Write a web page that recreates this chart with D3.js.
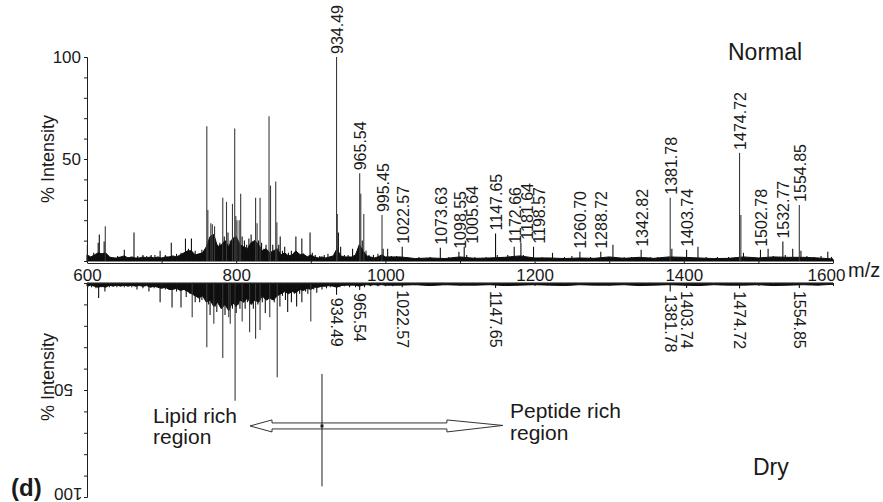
<!DOCTYPE html>
<html>
<head>
<meta charset="utf-8">
<script src="https://cdn.jsdelivr.net/npm/d3@7"></script>
<style>
  body { margin: 0; background: #fff; }
  text { font-family: "Liberation Sans", Arial, sans-serif; fill: #1a1a1a; }
</style>
</head>
<body>
<div id="chart"></div>
<script>
// Normal (top) spectrum, m/z and % intensity of the peaks
let normalMz = [600.5, 609, 612, 615, 616.5, 620, 623, 624.5, 628, 635, 641, 650, 655, 663, 668, 675, 680, 686, 691, 698,
    705, 713, 720, 726, 732, 736, 740, 745, 754, 760.6, 762, 766, 768, 771, 775, 778, 782, 784, 787, 789,
    792, 795, 798, 799.5, 801, 804, 806, 808, 811, 814, 817, 820, 823, 826, 828, 830, 832, 834, 837, 840,
    844, 846, 849, 853, 854.5, 857, 859, 862, 865, 870, 874, 880, 884, 888, 893, 899, 902, 906, 912, 918,
    923, 928, 934.49, 935.5, 937, 940, 945, 950, 956, 961, 965.54, 967, 969, 971, 974, 978, 984, 990, 995.45, 997,
    1003, 1008, 1015, 1022.57, 1030, 1045, 1060, 1073.63, 1085, 1098.55, 1105.64, 1109, 1120, 1135, 1147.65, 1150, 1164, 1172.66, 1181.64, 1185,
    1198.57, 1210, 1224, 1240, 1250, 1260.7, 1275, 1288.72, 1305, 1320, 1330, 1342.82, 1355, 1365, 1381.78, 1384, 1395, 1403.74, 1419, 1430,
    1445, 1460, 1474.72, 1476.5, 1480, 1490, 1502.78, 1513, 1520, 1532.77, 1536, 1546, 1554.85, 1557, 1565, 1575, 1584, 1593, 1598];
let normalInt = [8, 4, 3, 9, 13, 3, 9.5, 17, 3, 2, 2.5, 5.5, 2, 14, 2.5, 3, 2.5, 3, 3, 5,
    3, 9, 3.5, 4, 11, 6, 11, 5, 5.5, 66, 25, 18.5, 18, 17, 8, 9, 31, 12, 29, 14,
    10, 28, 65, 22, 20, 20, 33, 12, 10, 8, 11, 13, 9, 31, 18.5, 10, 31, 9, 6, 8,
    71, 37, 8, 39, 19, 8, 12, 5, 7, 4, 5, 12, 4, 11, 3, 14, 4, 3, 2.5, 3,
    3.5, 2.5, 100, 23, 14, 7, 3, 3, 6, 4, 43, 33, 10, 23, 5, 3, 3, 3.5, 22.5, 6,
    6, 2.5, 2.5, 7, 2, 2, 2, 6.5, 2, 4.5, 7, 3, 2, 2, 13.5, 3, 3, 7, 9, 3,
    7, 2, 4, 2, 2.5, 4.5, 2, 4.5, 8, 2, 2, 5.5, 2, 2, 31, 6, 2, 5.5, 7, 2,
    2, 2, 53, 22.5, 4, 2, 5.5, 6, 2.5, 9.5, 3, 6, 27.5, 5, 2.5, 2, 2.5, 4.5, 2];

// dense low-level signal (read every 5 Da up to 1000, then every 20 Da)
let noiseMz = [600, 605, 610, 615, 620, 625, 630, 635, 640, 645, 650, 655, 660, 665, 670, 675, 680, 685, 690, 695,
    700, 705, 710, 715, 720, 725, 730, 735, 740, 745, 750, 755, 760, 765, 770, 775, 780, 785, 790, 795,
    800, 805, 810, 815, 820, 825, 830, 835, 840, 845, 850, 855, 860, 865, 870, 875, 880, 885, 890, 895,
    900, 905, 910, 915, 920, 925, 930, 935, 940, 945, 950, 955, 960, 965, 970, 975, 980, 985, 990, 995,
    1000, 1020, 1040, 1060, 1080, 1100, 1120, 1140, 1160, 1180, 1200, 1220, 1240, 1260, 1280, 1300, 1320, 1340, 1360, 1380,
    1400, 1420, 1440, 1460, 1480, 1500, 1520, 1540, 1560, 1580, 1600];
let normalNoise = [3, 2, 3, 4, 3.5, 4, 2, 1.5, 1.5, 2, 2.5, 1.5, 2, 1.5, 1.5, 2, 1.5, 2, 1.5, 2,
    1.5, 2, 2, 2.5, 2, 3, 4, 5, 5, 3, 3.5, 4, 7, 12, 13, 7, 8, 10, 7, 11,
    12, 8, 7, 6, 9, 10, 8, 5, 6, 4, 5, 6, 3, 4, 2.5, 3, 5, 3, 3.5, 2,
    3, 2, 1.5, 2, 1.5, 2, 2.5, 6, 2.5, 2, 2, 2, 3, 8, 5, 2.5, 2, 1.5, 2, 3,
    2, 2, 1.2, 1.5, 1.2, 2, 1.3, 1.5, 1.8, 2.5, 1.5, 1.5, 1.2, 1.5, 1.3, 2, 1.3, 1.8, 1.3, 2,
    1.8, 1.5, 1.2, 1.3, 2, 1.5, 2, 1.8, 1.8, 1.5, 1];

// Dry (bottom, mirrored) spectrum
let dryMz = [601, 606, 612, 615.6, 620, 624, 630, 640, 650, 660, 667, 675, 683, 690, 698, 705, 714, 720, 726, 733,
    738, 741, 745, 748, 751, 754, 757, 760.6, 763, 765, 768, 770, 772, 774, 777, 779, 782, 785, 788, 790,
    792, 795, 798.5, 800, 803, 805, 808, 810, 812, 815, 818, 821, 823, 826, 829, 832, 835, 839, 842, 845,
    848, 851, 855, 858.6, 862, 866, 869, 874, 878, 881, 885, 888, 893, 896, 900, 904, 908, 915, 921, 926,
    934.49, 939, 945, 952, 960, 965.54, 972, 980, 990, 1000, 1010, 1022.57, 1040, 1060, 1080, 1100, 1120, 1147.65, 1170, 1200,
    1250, 1300, 1350, 1381.78, 1403.74, 1420, 1450, 1474.72, 1500, 1520, 1554.85, 1580];
let dryInt = [2, 2, 2.5, 7, 2, 4, 2, 2, 2, 2, 3, 2.5, 4, 2.5, 9, 3, 11.5, 4, 11.5, 6.5,
    5, 16, 9, 6, 9, 8, 7, 30, 10, 15, 9, 19, 11, 13.5, 9, 10, 35, 15, 10, 16,
    19, 12, 55, 14, 10, 12, 18, 9, 12, 9, 23, 10, 12, 26, 10, 22, 9, 14, 8, 16,
    8, 9, 44, 11, 6, 8, 13.5, 9, 5, 11, 5, 9, 4, 5, 18, 3, 4.5, 3, 2.5, 2,
    5.5, 2, 1.5, 2, 2, 3.3, 2, 1.5, 1.5, 1.5, 1.5, 2, 1, 1, 1, 1, 1, 2.3, 1, 1,
    1, 1, 1, 4, 2.3, 1, 1, 2.5, 1, 1, 2.3, 1];

let dryNoise = [1.5, 1, 1.5, 2, 1.5, 2, 1, 1.5, 1, 1.5, 1, 1.5, 1, 1.5, 1.2, 1.5, 1.2, 2, 1.5, 2,
    2.5, 2, 3, 3, 2.5, 3.5, 3, 4, 5, 6, 7, 6, 9, 8, 11, 9, 12, 10, 13, 9,
    11, 8, 9, 7, 10, 8, 9, 6, 8, 7, 8, 6, 5, 4, 5, 4, 4.5, 3, 3.5, 2.5,
    3, 2, 2, 1.5, 1.5, 1.2, 1.5, 2, 1.2, 1, 1, 1, 1, 1.5, 1, 0.8, 1, 0.8, 1, 0.8,
    1, 1, 0.8, 1.2, 0.8, 1, 1, 0.8, 1.2, 1, 0.8, 1, 1.2, 0.8, 1, 1, 0.8, 1.2, 1, 0.8,
    1, 1.2, 0.8, 1, 1, 0.8, 1.2, 1, 0.8, 1, 0.6];

// peak labels (text as printed)
let normalLabelMz = [934.49, 965.54, 995.45, 1022.57, 1073.63, 1098.55, 1105.64, 1147.65, 1172.66, 1181.64, 1198.57,
    1260.7, 1288.72, 1342.82, 1381.78, 1403.74, 1474.72, 1502.78, 1532.77, 1554.85];
let normalLabelText = ["934.49", "965.54", "995.45", "1022.57", "1073.63", "1098.55", "1005.64", "1147.65", "1172.66", "1181.64", "1198.57",
    "1260.70", "1288.72", "1342.82", "1381.78", "1403.74", "1474.72", "1502.78", "1532.77", "1554.85"];
let dryLabelMz = [934.49, 965.54, 1022.57, 1147.65, 1381.78, 1403.74, 1474.72, 1554.85];
let dryLabelText = ["934.49", "965.54", "1022.57", "1147.65", "1381.78", "1403.74", "1474.72", "1554.85"];

let xTickLabels = [600, 800, 1000, 1200, 1400, 1600];
let yTickLabels = [50, 100];

// annotation: double arrow and divider (in m/z and dry % units)
let arrowMz = [818.5, 1157.5];
let arrowLevel = 66.8;
let dividerMz = 915;
let dividerRange = [42.5, 95];

let width = 883, height = 502;

let svg = d3.select("#chart")
    .append("svg")
    .attr("width", width)
    .attr("height", height);

svg.append("rect").attr("width", width).attr("height", height).attr("fill", "#fff");

let x = d3.scaleLinear().domain([600, 1600]).range([87, 833]);
let yTop = d3.scaleLinear().domain([0, 100]).range([261, 57]);
let yDry = d3.scaleLinear().domain([0, 100]).range([283, 497]);

let ink = "#1f1f1f";

function nearestInt(mzs, ints, m) {
    let best = 0;
    for (let i = 0; i < mzs.length; i++) {
        if (Math.abs(mzs[i] - m) < Math.abs(mzs[best] - m)) best = i;
    }
    return ints[best];
}

//draw a spectrum: noise band + sticks
function drawSpectrum(mzs, ints, noise, y) {
    let g = svg.append("g");
    let area = d3.area()
        .x(d => x(d[0]))
        .y0(y(0))
        .y1(d => y(d[1]));
    g.append("path")
        .datum(d3.zip(noiseMz, noise))
        .attr("d", area)
        .attr("fill", "#0d0d0d")
        .attr("stroke", "#0d0d0d")
        .attr("stroke-width", 1);
    g.selectAll("line")
        .data(d3.zip(mzs, ints))
        .join("line")
        .attr("x1", d => x(d[0]))
        .attr("x2", d => x(d[0]))
        .attr("y1", y(0))
        .attr("y2", d => y(d[1]))
        .attr("stroke", d => d[1] > 15 ? "#3a3a3a" : "#111")
        .attr("stroke-width", 1.1);
}

drawSpectrum(normalMz, normalInt, normalNoise, yTop);
drawSpectrum(dryMz, dryInt, dryNoise, yDry);

// x axes
let xTop = d3.axisBottom(x)
    .tickValues(d3.range(600, 1601, 100))
    .tickSizeInner(-3)
    .tickSizeOuter(0)
    .tickPadding(6)
    .tickFormat(d => xTickLabels.includes(d) ? d : "");
let gxTop = svg.append("g")
    .attr("transform", "translate(0,263)")
    .call(xTop);
gxTop.selectAll("text")
    .style("font-size", "17px")
    .attr("fill", ink)
    .filter(d => d === 1600)
    .attr("dx", "-7");

let xBot = d3.axisBottom(x)
    .tickValues(d3.range(600, 1601, 100))
    .tickSizeInner(3)
    .tickSizeOuter(0)
    .tickFormat("");
svg.append("g")
    .attr("transform", "translate(0,283)")
    .call(xBot);

// y axes
let yAxisTop = d3.axisLeft(yTop)
    .tickValues(d3.range(0, 101, 10))
    .tickSize(3)
    .tickFormat("");
svg.append("g").attr("transform", "translate(87,0)").call(yAxisTop);

let yAxisDry = d3.axisLeft(yDry)
    .tickValues(d3.range(0, 101, 10))
    .tickSize(3)
    .tickFormat("");
svg.append("g").attr("transform", "translate(87,0)").call(yAxisDry);

svg.selectAll(".domain, .tick line").attr("stroke", ink);

// y tick labels
yTickLabels.forEach(t => {
    svg.append("text")
        .attr("x", 81)
        .attr("y", yTop(t))
        .attr("dy", "0.35em")
        .attr("text-anchor", "end")
        .style("font-size", "17px")
        .text(t);
    // upside-down on the mirrored panel
    svg.append("text")
        .attr("transform", "translate(54," + Math.min(yDry(t), 494) + ") rotate(180)")
        .attr("dy", "0.35em")
        .attr("text-anchor", "end")
        .style("font-size", "17px")
        .text(t);
});

// axis titles
[159, 377].forEach(cy => {
    svg.append("text")
        .attr("transform", "translate(54," + cy + ") rotate(-90)")
        .attr("text-anchor", "middle")
        .style("font-size", "18px")
        .text("% Intensity");
});

svg.append("text")
    .attr("x", 848)
    .attr("y", 277)
    .style("font-size", "20px")
    .text("m/z");

// peak labels, nudged apart when they crowd
let prevX = -100;
normalLabelMz.forEach((m, i) => {
    let h = nearestInt(normalMz, normalInt, m);
    let cx = Math.max(x(m) + 1, prevX + 12);
    prevX = cx;
    svg.append("text")
        .attr("transform", "translate(" + cx + "," + (yTop(h) - 3) + ") rotate(-90)")
        .attr("dy", "0.35em")
        .style("font-size", "16px")
        .text(normalLabelText[i]);
});

dryLabelMz.forEach((m, i) => {
    let h = nearestInt(dryMz, dryInt, m);
    svg.append("text")
        .attr("transform", "translate(" + x(m) + "," + (yDry(h) + 3) + ") rotate(90)")
        .attr("dy", "0.35em")
        .style("font-size", "16px")
        .text(dryLabelText[i]);
});

// panel names
svg.append("text").attr("x", 728).attr("y", 60).style("font-size", "23px").text("Normal");
svg.append("text").attr("x", 753).attr("y", 475).style("font-size", "23px").text("Dry");
svg.append("text").attr("x", 11).attr("y", 496).style("font-size", "24px").style("font-weight", "bold").text("(d)");

// region arrow
let ay = yDry(arrowLevel);
let ax0 = x(arrowMz[0]), ax1 = x(arrowMz[1]);
let arrowPts = [
    [ax0, ay], [ax0 + 22, ay - 6], [ax0 + 22, ay - 3], [ax1 - 56, ay - 3], [ax1 - 56, ay - 6],
    [ax1, ay - 0.5], [ax1 - 56, ay + 6], [ax1 - 56, ay + 3], [ax0 + 22, ay + 3], [ax0 + 22, ay + 6]
];
svg.append("path")
    .attr("d", d3.line()(arrowPts) + "Z")
    .attr("fill", "#fff")
    .attr("stroke", "#333")
    .attr("stroke-width", 1);

svg.append("line")
    .attr("x1", x(dividerMz)).attr("x2", x(dividerMz))
    .attr("y1", yDry(dividerRange[0])).attr("y2", yDry(dividerRange[1]))
    .attr("stroke", ink)
    .attr("stroke-width", 1);
svg.append("rect")
    .attr("x", x(dividerMz) - 1.5).attr("y", ay - 1.5)
    .attr("width", 3).attr("height", 3)
    .attr("fill", ink);

let lipid = svg.append("text").attr("x", 153).attr("y", 423).style("font-size", "21px");
lipid.append("tspan").attr("x", 153).text("Lipid rich");
lipid.append("tspan").attr("x", 153).attr("dy", 21).text("region");

let pep = svg.append("text").attr("x", 510).attr("y", 418).style("font-size", "21px");
pep.append("tspan").attr("x", 510).text("Peptide rich");
pep.append("tspan").attr("x", 510).attr("dy", 22).text("region");
</script>
</body>
</html>
